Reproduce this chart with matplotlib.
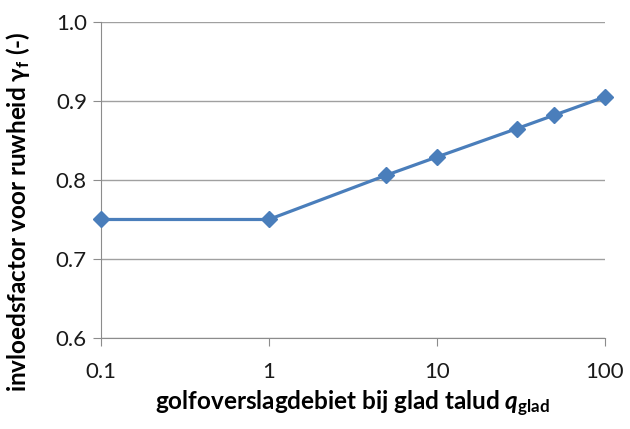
import matplotlib
matplotlib.use("Agg")
import matplotlib.pyplot as plt

# data
q_glad = [0.1, 1, 5, 10, 30, 50, 100]
gamma_f = [0.75, 0.75, 0.806, 0.829, 0.865, 0.882, 0.905]
x_ticks = [0.1, 1, 10, 100]
x_ticklabels = ["0.1", "1", "10", "100"]
y_ticks = [0.6, 0.7, 0.8, 0.9, 1.0]

plt.rcParams["font.family"] = ["Lato", "DejaVu Sans"]
plt.rcParams["mathtext.fontset"] = "custom"
plt.rcParams["mathtext.rm"] = "Lato"
plt.rcParams["mathtext.bf"] = "Lato:bold"
plt.rcParams["mathtext.it"] = "Lato:italic"
plt.rcParams["mathtext.bfit"] = "Lato:bold:italic"

fig = plt.figure(figsize=(6.3, 4.29), dpi=100)
ax = fig.add_axes([0.160, 0.212, 0.800, 0.737])

ax.plot(q_glad, gamma_f, color="#4A7EBB", lw=2.3, marker="D", ms=8.5,
        zorder=3, clip_on=False)

ax.set_xscale("log")
ax.set_xlim(0.1, 100)
ax.set_ylim(0.6, 1.0)
ax.set_xticks(x_ticks)
ax.set_xticklabels(x_ticklabels)
ax.minorticks_off()
ax.set_yticks(y_ticks)
ax.set_yticklabels([f"{v:.1f}" for v in y_ticks])

ax.grid(axis="y", color="#A0A0A0", lw=1)
for s in ("top", "right"):
    ax.spines[s].set_visible(False)
for s in ("left", "bottom"):
    ax.spines[s].set_color("#8C8C8C")
ax.tick_params(axis="both", colors="#8C8C8C", labelcolor="#1a1a1a",
               labelsize=16, length=6, direction="out")
ax.tick_params(axis="x", pad=11)
ax.tick_params(axis="y", pad=4)

ax.set_xlabel(r"golfoverslagdebiet bij glad talud $\mathbfit{q}_{\mathbf{glad}}$",
              fontsize=17.5, fontweight="bold", labelpad=5)
ax.set_ylabel(r"invloedsfactor voor ruwheid γ$_{\mathbf{f}}$ (-)",
              fontsize=17.5, fontweight="bold")
# the reference centres the y label a bit below the plot's middle
ax.yaxis.set_label_coords(-0.137, 0.40)

fig.savefig("out.png", dpi=100)
